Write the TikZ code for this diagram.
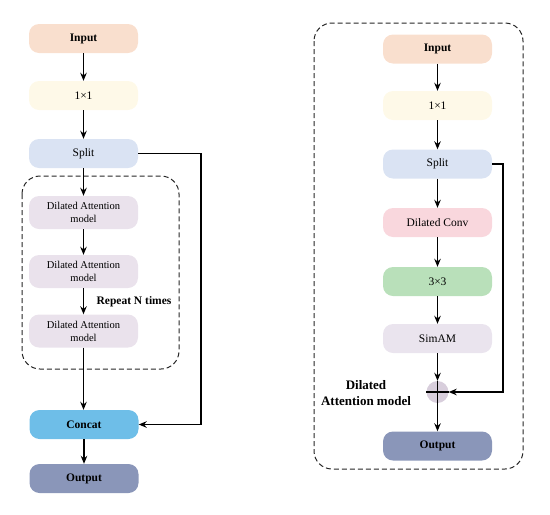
\documentclass[tikz,border=0pt]{standalone}
\usepackage{fontspec}
\setmainfont{Liberation Serif}
\usetikzlibrary{arrows.meta}
\definecolor{cInput}{HTML}{F9DFCE}
\definecolor{cOne}{HTML}{FEF9E8}
\definecolor{cSplit}{HTML}{DAE3F3}
\definecolor{cDA}{HTML}{EAE2EC}
\definecolor{cConcat}{HTML}{6EBEE8}
\definecolor{cOut}{HTML}{8A96B9}
\definecolor{cConv}{HTML}{F9D7DD}
\definecolor{cThree}{HTML}{B9E0BA}
\definecolor{cSim}{HTML}{EAE4EE}
\definecolor{cCirc}{HTML}{D8CEDC}
\tikzset{
  blk/.style={rounded corners=10pt, minimum width=109pt, minimum height=29pt, inner sep=1pt, align=center, font=\fontsize{11.5}{13}\selectfont, text=black},
  bblk/.style={blk, font=\fontsize{11.5}{13}\selectfont\bfseries},
  dablk/.style={blk, fill=cDA, minimum height=33pt, font=\fontsize{10.5}{13}\selectfont},
  arr/.style={-{Stealth[length=8pt,width=6.5pt]}, line width=1.3pt},
  ln/.style={line width=1.3pt},
  dbox/.style={line width=1pt, dash pattern=on 5pt off 3pt, rounded corners=18pt, draw=black!85},
  lbl/.style={font=\fontsize{11.5}{14}\selectfont\bfseries, align=center},
}
\begin{document}
\begin{tikzpicture}[x=1pt,y=-1pt]
\useasboundingbox (0,0) rectangle (550,515);
% left
\node[bblk, fill=cInput] (Li) at (83.5,38.5) {Input};
\node[blk, fill=cOne] (Lo) at (83.5,95.5) {1×1};
\node[blk, fill=cSplit] (Ls) at (83.5,153.5) {Split};
\draw[dbox] (22,176) rectangle (179,369);
\node[dablk] (Ld1) at (83.5,212.5) {Dilated Attention\\model};
\node[dablk] (Ld2) at (83.5,271.5) {Dilated Attention\\model};
\node[dablk] (Ld3) at (83.5,331) {Dilated Attention\\model};
\node[lbl] (Lrep) at (134,302) {Repeat N times};
\node[bblk, fill=cConcat] (Lc) at (84,424.5) {Concat};
\node[bblk, fill=cOut] (Lout) at (84,478.5) {Output};
\draw[arr] (Li) -- (Lo);
\draw[arr] (Lo) -- (Ls);
\draw[arr] (Ls) -- (Ld1);
\draw[arr] (Ld1) -- (Ld2);
\draw[arr] (Ld2) -- (Ld3);
\draw[arr] (Ld3.south) -- (Ld3.south |- Lc.north);
\draw[arr] (Lc) -- (Lout);
\coordinate (Lk1) at (201,153.5);
\coordinate (Lk2) at (201,424.5);
\draw[arr] (Ls.east) -- (Lk1) -- (Lk2) -- (Lc.east);
% right
\draw[dbox] (314,23) rectangle (523,469);
\node[bblk, fill=cInput] (Ri) at (437.5,49) {Input};
\node[blk, fill=cOne] (Ro) at (437.5,105.5) {1×1};
\node[blk, fill=cSplit] (Rs) at (437.5,164) {Split};
\node[blk, fill=cConv] (Rc) at (437.5,222.5) {Dilated Conv};
\node[blk, fill=cThree] (Rt) at (437.5,281.5) {3×3};
\node[blk, fill=cSim] (Rsim) at (437.5,338.5) {SimAM};
\node[circle, fill=cCirc, minimum size=22pt, inner sep=0pt] (Rp) at (437.5,392) {};
\draw[ln] (Rp.north) -- (Rp.south);
\draw[ln] (Rp.west) -- (Rp.east);
\node[bblk, fill=cOut] (Rout) at (437.5,446) {Output};
\node[lbl, font=\fontsize{13}{16}\selectfont\bfseries] (Rlab) at (366,393) {Dilated\\Attention model};
\draw[arr] (Ri) -- (Ro);
\draw[arr] (Ro) -- (Rs);
\draw[arr] (Rs) -- (Rc);
\draw[arr] (Rc) -- (Rt);
\draw[arr] (Rt) -- (Rsim);
\draw[arr] (Rsim) -- (Rp);
\draw[arr] (Rp) -- (Rout);
\coordinate (Rk1) at (503,164);
\coordinate (Rk2) at (503,392);
\draw[arr] (Rs.east) -- (Rk1) -- (Rk2) -- (Rp.east);
\end{tikzpicture}
\end{document}
